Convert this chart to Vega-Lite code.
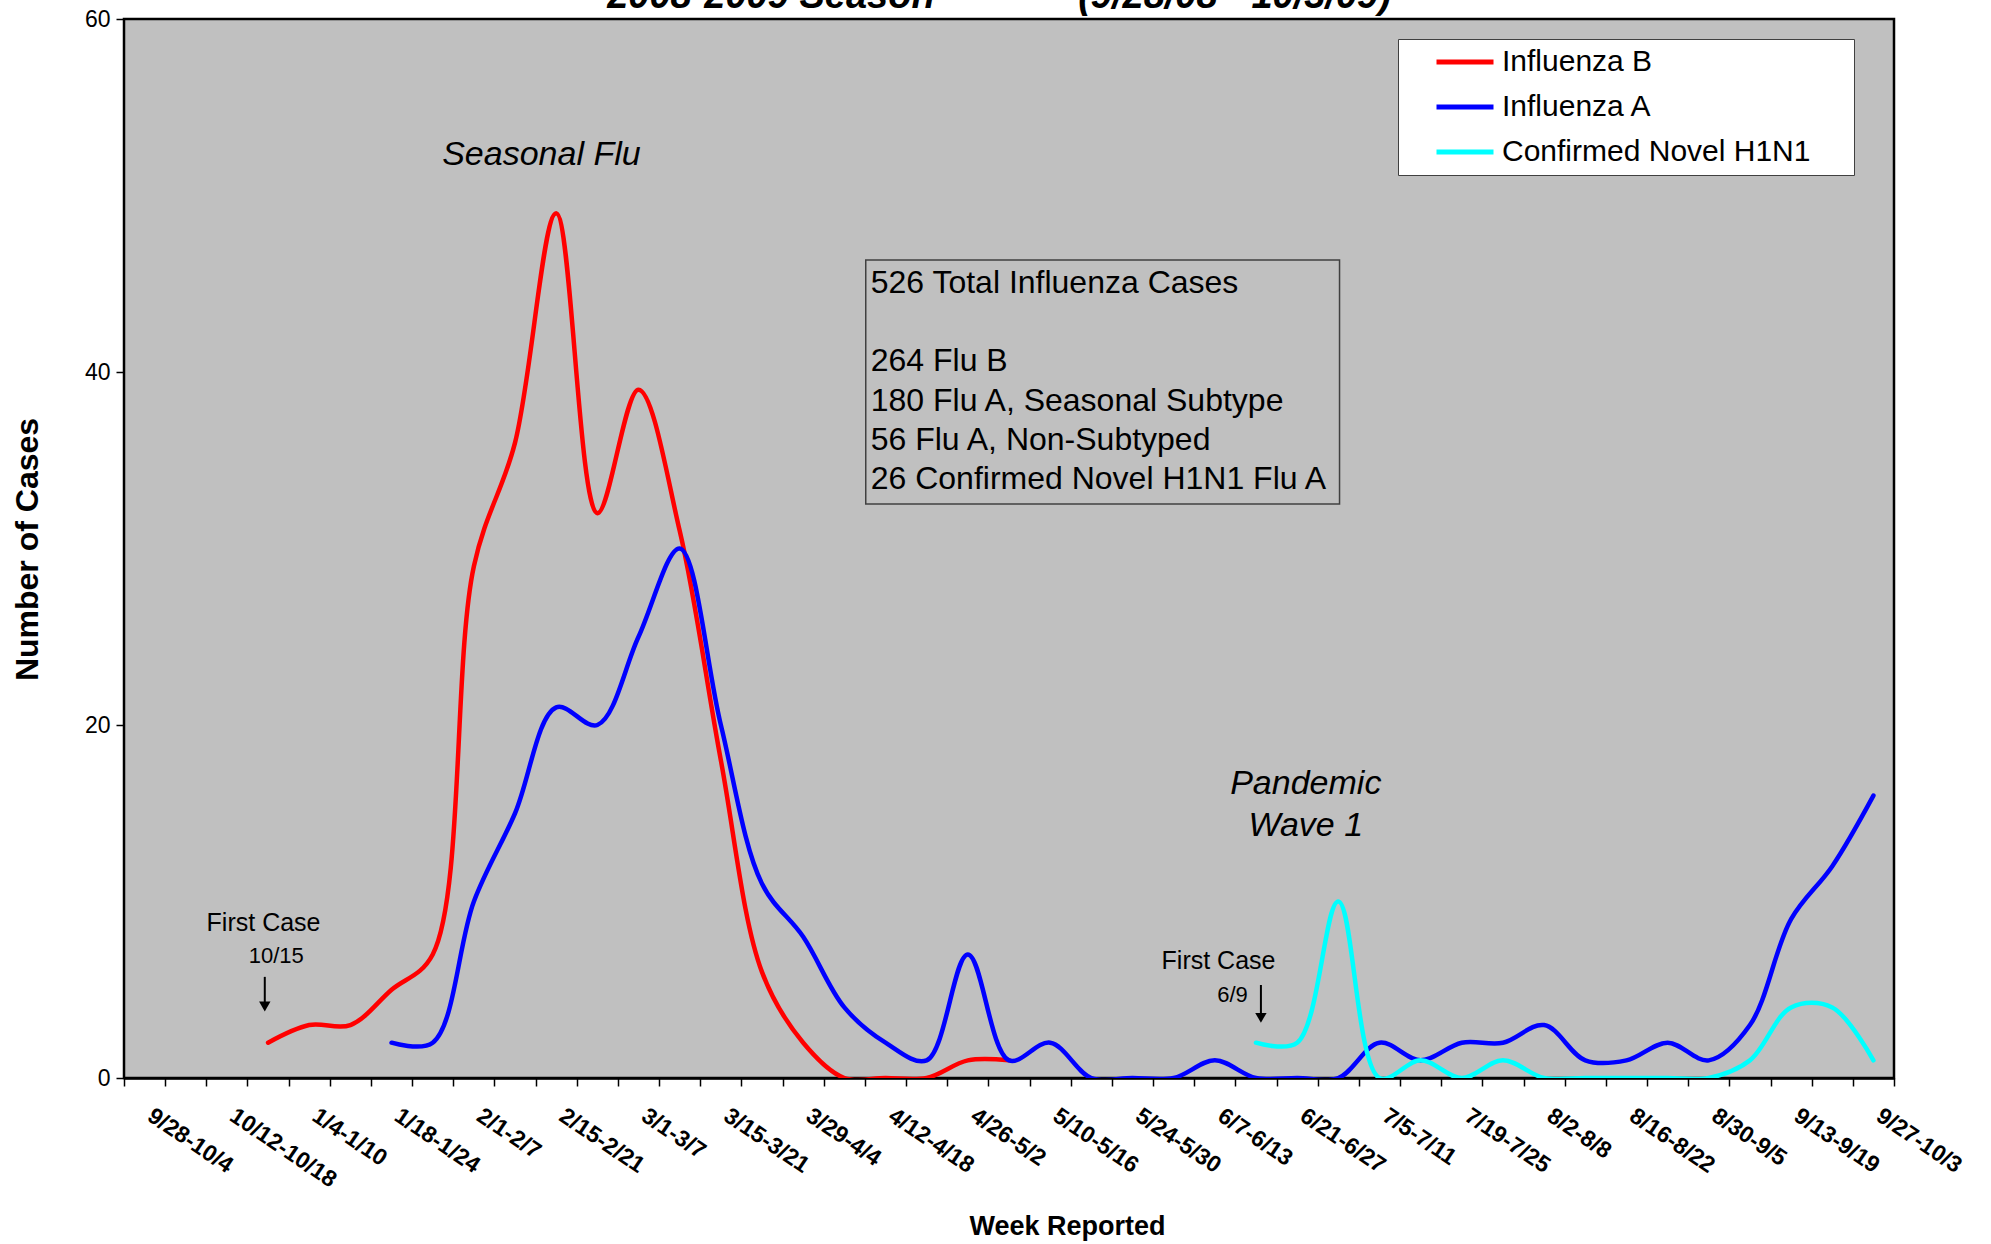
{
  "$schema": "https://vega.github.io/schema/vega-lite/v6.json",
  "width": 1770,
  "height": 1059,
  "autosize": {"type": "none"},
  "padding": {"left": 124, "top": 19, "right": 97, "bottom": 166},
  "background": "white",
  "title": {"text": "2008-2009 Season\u00a0\u00a0\u00a0\u00a0\u00a0—\u00a0\u00a0\u00a0\u00a0\u00a0(9/28/08 - 10/3/09)", "font": "Liberation Sans", "fontSize": 38, "fontWeight": "bold", "fontStyle": "italic", "frame": "group", "anchor": "middle", "offset": 4, "dy": 12, "dx": -10, "color": "black"},
  "config": {"view": {"fill": "#c0c0c0", "stroke": "black", "strokeWidth": 2.5}, "font": "Liberation Sans"},
  "layer": [
    {
      "data": {"values": [
        {"week": "12/28-1/3", "series": "Influenza B", "cases": 2},
        {"week": "1/4-1/10", "series": "Influenza B", "cases": 3},
        {"week": "1/11-1/17", "series": "Influenza B", "cases": 3},
        {"week": "1/18-1/24", "series": "Influenza B", "cases": 5},
        {"week": "1/25-1/31", "series": "Influenza B", "cases": 7},
        {"week": "2/1-2/7", "series": "Influenza B", "cases": 29},
        {"week": "2/8-2/14", "series": "Influenza B", "cases": 36},
        {"week": "2/15-2/21", "series": "Influenza B", "cases": 49},
        {"week": "2/22-2/28", "series": "Influenza B", "cases": 32},
        {"week": "3/1-3/7", "series": "Influenza B", "cases": 39},
        {"week": "3/8-3/14", "series": "Influenza B", "cases": 31},
        {"week": "3/15-3/21", "series": "Influenza B", "cases": 18},
        {"week": "3/22-3/28", "series": "Influenza B", "cases": 6},
        {"week": "3/29-4/4", "series": "Influenza B", "cases": 2},
        {"week": "4/5-4/11", "series": "Influenza B", "cases": 0},
        {"week": "4/12-4/18", "series": "Influenza B", "cases": 0},
        {"week": "4/19-4/25", "series": "Influenza B", "cases": 0},
        {"week": "4/26-5/2", "series": "Influenza B", "cases": 1},
        {"week": "5/3-5/9", "series": "Influenza B", "cases": 1},
        {"week": "1/18-1/24", "series": "Influenza A", "cases": 2},
        {"week": "1/25-1/31", "series": "Influenza A", "cases": 2},
        {"week": "2/1-2/7", "series": "Influenza A", "cases": 10},
        {"week": "2/8-2/14", "series": "Influenza A", "cases": 15},
        {"week": "2/15-2/21", "series": "Influenza A", "cases": 21},
        {"week": "2/22-2/28", "series": "Influenza A", "cases": 20},
        {"week": "3/1-3/7", "series": "Influenza A", "cases": 25},
        {"week": "3/8-3/14", "series": "Influenza A", "cases": 30},
        {"week": "3/15-3/21", "series": "Influenza A", "cases": 20},
        {"week": "3/22-3/28", "series": "Influenza A", "cases": 11},
        {"week": "3/29-4/4", "series": "Influenza A", "cases": 8},
        {"week": "4/5-4/11", "series": "Influenza A", "cases": 4},
        {"week": "4/12-4/18", "series": "Influenza A", "cases": 2},
        {"week": "4/19-4/25", "series": "Influenza A", "cases": 1},
        {"week": "4/26-5/2", "series": "Influenza A", "cases": 7},
        {"week": "5/3-5/9", "series": "Influenza A", "cases": 1},
        {"week": "5/10-5/16", "series": "Influenza A", "cases": 2},
        {"week": "5/17-5/23", "series": "Influenza A", "cases": 0},
        {"week": "5/24-5/30", "series": "Influenza A", "cases": 0},
        {"week": "5/31-6/6", "series": "Influenza A", "cases": 0},
        {"week": "6/7-6/13", "series": "Influenza A", "cases": 1},
        {"week": "6/14-6/20", "series": "Influenza A", "cases": 0},
        {"week": "6/21-6/27", "series": "Influenza A", "cases": 0},
        {"week": "6/28-7/4", "series": "Influenza A", "cases": 0},
        {"week": "7/5-7/11", "series": "Influenza A", "cases": 2},
        {"week": "7/12-7/18", "series": "Influenza A", "cases": 1},
        {"week": "7/19-7/25", "series": "Influenza A", "cases": 2},
        {"week": "7/26-8/1", "series": "Influenza A", "cases": 2},
        {"week": "8/2-8/8", "series": "Influenza A", "cases": 3},
        {"week": "8/9-8/15", "series": "Influenza A", "cases": 1},
        {"week": "8/16-8/22", "series": "Influenza A", "cases": 1},
        {"week": "8/23-8/29", "series": "Influenza A", "cases": 2},
        {"week": "8/30-9/5", "series": "Influenza A", "cases": 1},
        {"week": "9/6-9/12", "series": "Influenza A", "cases": 3},
        {"week": "9/13-9/19", "series": "Influenza A", "cases": 9},
        {"week": "9/20-9/26", "series": "Influenza A", "cases": 12},
        {"week": "9/27-10/3", "series": "Influenza A", "cases": 16},
        {"week": "6/14-6/20", "series": "Confirmed Novel H1N1", "cases": 2},
        {"week": "6/21-6/27", "series": "Confirmed Novel H1N1", "cases": 2},
        {"week": "6/28-7/4", "series": "Confirmed Novel H1N1", "cases": 10},
        {"week": "7/5-7/11", "series": "Confirmed Novel H1N1", "cases": 0},
        {"week": "7/12-7/18", "series": "Confirmed Novel H1N1", "cases": 1},
        {"week": "7/19-7/25", "series": "Confirmed Novel H1N1", "cases": 0},
        {"week": "7/26-8/1", "series": "Confirmed Novel H1N1", "cases": 1},
        {"week": "8/2-8/8", "series": "Confirmed Novel H1N1", "cases": 0},
        {"week": "8/9-8/15", "series": "Confirmed Novel H1N1", "cases": 0},
        {"week": "8/16-8/22", "series": "Confirmed Novel H1N1", "cases": 0},
        {"week": "8/23-8/29", "series": "Confirmed Novel H1N1", "cases": 0},
        {"week": "8/30-9/5", "series": "Confirmed Novel H1N1", "cases": 0},
        {"week": "9/6-9/12", "series": "Confirmed Novel H1N1", "cases": 1},
        {"week": "9/13-9/19", "series": "Confirmed Novel H1N1", "cases": 4},
        {"week": "9/20-9/26", "series": "Confirmed Novel H1N1", "cases": 4},
        {"week": "9/27-10/3", "series": "Confirmed Novel H1N1", "cases": 1}
      ]},
      "mark": {"type": "line", "interpolate": "catmull-rom", "strokeWidth": 4.5, "clip": true, "strokeCap": "round", "strokeJoin": "round"},
      "encoding": {
        "x": {
          "field": "week", "type": "ordinal",
          "scale": {"type": "band", "paddingInner": 0, "paddingOuter": 0, "domain": ["9/28-10/4", "10/5-10/11", "10/12-10/18", "12/28-1/3", "1/4-1/10", "1/11-1/17", "1/18-1/24", "1/25-1/31", "2/1-2/7", "2/8-2/14", "2/15-2/21", "2/22-2/28", "3/1-3/7", "3/8-3/14", "3/15-3/21", "3/22-3/28", "3/29-4/4", "4/5-4/11", "4/12-4/18", "4/19-4/25", "4/26-5/2", "5/3-5/9", "5/10-5/16", "5/17-5/23", "5/24-5/30", "5/31-6/6", "6/7-6/13", "6/14-6/20", "6/21-6/27", "6/28-7/4", "7/5-7/11", "7/12-7/18", "7/19-7/25", "7/26-8/1", "8/2-8/8", "8/9-8/15", "8/16-8/22", "8/23-8/29", "8/30-9/5", "9/6-9/12", "9/13-9/19", "9/20-9/26", "9/27-10/3"]},
          "axis": {
            "title": "Week Reported", "tickBand": "extent", "tickSize": 8, "tickColor": "black", "tickWidth": 1.5,
            "domainColor": "black", "domainWidth": 2.5, "grid": false,
            "labelAngle": 34, "labelAlign": "left", "labelBaseline": "top", "labelFont": "Liberation Sans", "labelFontWeight": "bold", "labelFontSize": 23, "labelColor": "black", "labelPadding": 18, "labelOffset": 11, "labelOverlap": false, "labelBound": false, "labelFlush": false,
            "labelExpr": "indexof(['9/28-10/4','10/12-10/18','1/4-1/10','1/18-1/24','2/1-2/7','2/15-2/21','3/1-3/7','3/15-3/21','3/29-4/4','4/12-4/18','4/26-5/2','5/10-5/16','5/24-5/30','6/7-6/13','6/21-6/27','7/5-7/11','7/19-7/25','8/2-8/8','8/16-8/22','8/30-9/5','9/13-9/19','9/27-10/3'], datum.value) >= 0 ? datum.label : ''",
            "titleFont": "Liberation Sans", "titleFontSize": 27, "titleFontWeight": "bold", "titleColor": "black", "titleX": 943, "titleY": 156, "titleAlign": "center", "titleBaseline": "alphabetic"
          }
        },
        "y": {
          "field": "cases", "type": "quantitative",
          "scale": {"domain": [0, 60], "nice": false},
          "axis": {
            "title": "Number of Cases", "values": [0, 20, 40, 60], "grid": false, "domain": false,
            "tickSize": 8, "tickColor": "black", "tickWidth": 1.5,
            "labelFont": "Liberation Sans", "labelFontSize": 23, "labelColor": "black", "labelPadding": 6,
            "titleFont": "Liberation Sans", "titleFontSize": 32, "titleFontWeight": "bold", "titleColor": "black",
            "titleX": -97, "titleY": 530, "titleAngle": -90, "titleAlign": "center", "titleBaseline": "middle"
          }
        },
        "color": {
          "field": "series", "type": "nominal",
          "scale": {"domain": ["Influenza B", "Influenza A", "Confirmed Novel H1N1"], "range": ["#ff0000", "#0000ff", "#00ffff"]},
          "legend": {
            "orient": "none", "legendX": 1274, "legendY": 20, "direction": "vertical", "title": null,
            "fillColor": "white", "strokeColor": "#404040", "padding": 8, "rowPadding": 15,
            "symbolType": "M-3,0H3M39,0", "symbolSize": 361, "symbolStrokeWidth": 5, "symbolOffset": 44, "labelOffset": 22,
            "labelFont": "Liberation Sans", "labelFontSize": 30, "labelColor": "black", "labelLimit": 600
          }
        },
        "order": {"value": null}
      }
    },
    {
      "data": {"values": [{}]},
      "layer": [
        {
          "mark": {"type": "rect", "fillOpacity": 0, "stroke": "#404040", "strokeWidth": 1.5},
          "encoding": {
            "x": {"datum": 18.02, "type": "quantitative", "scale": {"domain": [0, 43], "nice": false, "zero": false}, "axis": null},
            "x2": {"datum": 29.53},
            "y": {"datum": 46.35, "type": "quantitative"},
            "y2": {"datum": 32.52}
          }
        },
        {
          "mark": {"type": "text", "text": "526 Total Influenza Cases", "font": "Liberation Sans", "fontSize": 32, "align": "left", "baseline": "alphabetic", "color": "black"},
          "encoding": {"x": {"datum": 18.14, "type": "quantitative"}, "y": {"datum": 44.5, "type": "quantitative"}}
        },
        {
          "mark": {"type": "text", "text": ["264 Flu B", "180 Flu A, Seasonal Subtype", "56 Flu A, Non-Subtyped", "26 Confirmed Novel H1N1 Flu A"], "font": "Liberation Sans", "fontSize": 32, "lineHeight": 39.4, "align": "left", "baseline": "alphabetic", "color": "black"},
          "encoding": {"x": {"datum": 18.14, "type": "quantitative"}, "y": {"datum": 40.04, "type": "quantitative"}}
        },
        {
          "mark": {"type": "text", "text": "Seasonal Flu", "font": "Liberation Sans", "fontSize": 34, "fontStyle": "italic", "align": "center", "baseline": "alphabetic", "color": "black"},
          "encoding": {"x": {"datum": 10.14, "type": "quantitative"}, "y": {"datum": 51.7, "type": "quantitative"}}
        },
        {
          "mark": {"type": "text", "text": ["Pandemic", "Wave 1"], "font": "Liberation Sans", "fontSize": 34, "fontStyle": "italic", "lineHeight": 41.5, "align": "center", "baseline": "alphabetic", "color": "black"},
          "encoding": {"x": {"datum": 28.71, "type": "quantitative"}, "y": {"datum": 16.09, "type": "quantitative"}}
        },
        {
          "mark": {"type": "text", "text": "First Case", "font": "Liberation Sans", "fontSize": 25, "align": "center", "baseline": "alphabetic", "color": "black"},
          "encoding": {"x": {"datum": 3.39, "type": "quantitative"}, "y": {"datum": 8.35, "type": "quantitative"}}
        },
        {
          "mark": {"type": "text", "text": "10/15", "font": "Liberation Sans", "fontSize": 22, "align": "center", "baseline": "alphabetic", "color": "black"},
          "encoding": {"x": {"datum": 3.7, "type": "quantitative"}, "y": {"datum": 6.49, "type": "quantitative"}}
        },
        {
          "mark": {"type": "text", "text": "First Case", "font": "Liberation Sans", "fontSize": 25, "align": "center", "baseline": "alphabetic", "color": "black"},
          "encoding": {"x": {"datum": 26.59, "type": "quantitative"}, "y": {"datum": 6.2, "type": "quantitative"}}
        },
        {
          "mark": {"type": "text", "text": "6/9", "font": "Liberation Sans", "fontSize": 22, "align": "center", "baseline": "alphabetic", "color": "black"},
          "encoding": {"x": {"datum": 26.93, "type": "quantitative"}, "y": {"datum": 4.3, "type": "quantitative"}}
        },
        {
          "mark": {"type": "rule", "color": "black", "strokeWidth": 2},
          "encoding": {"x": {"datum": 3.42, "type": "quantitative"}, "y": {"datum": 5.73, "type": "quantitative"}, "y2": {"datum": 4.1}}
        },
        {
          "mark": {"type": "point", "shape": "triangle-down", "filled": true, "color": "black", "opacity": 1, "size": 130},
          "encoding": {"x": {"datum": 3.42, "type": "quantitative"}, "y": {"datum": 4.05, "type": "quantitative"}}
        },
        {
          "mark": {"type": "rule", "color": "black", "strokeWidth": 2},
          "encoding": {"x": {"datum": 27.62, "type": "quantitative"}, "y": {"datum": 5.27, "type": "quantitative"}, "y2": {"datum": 3.45}}
        },
        {
          "mark": {"type": "point", "shape": "triangle-down", "filled": true, "color": "black", "opacity": 1, "size": 130},
          "encoding": {"x": {"datum": 27.62, "type": "quantitative"}, "y": {"datum": 3.41, "type": "quantitative"}}
        }
      ]
    }
  ],
  "resolve": {"scale": {"x": "independent"}}
}
